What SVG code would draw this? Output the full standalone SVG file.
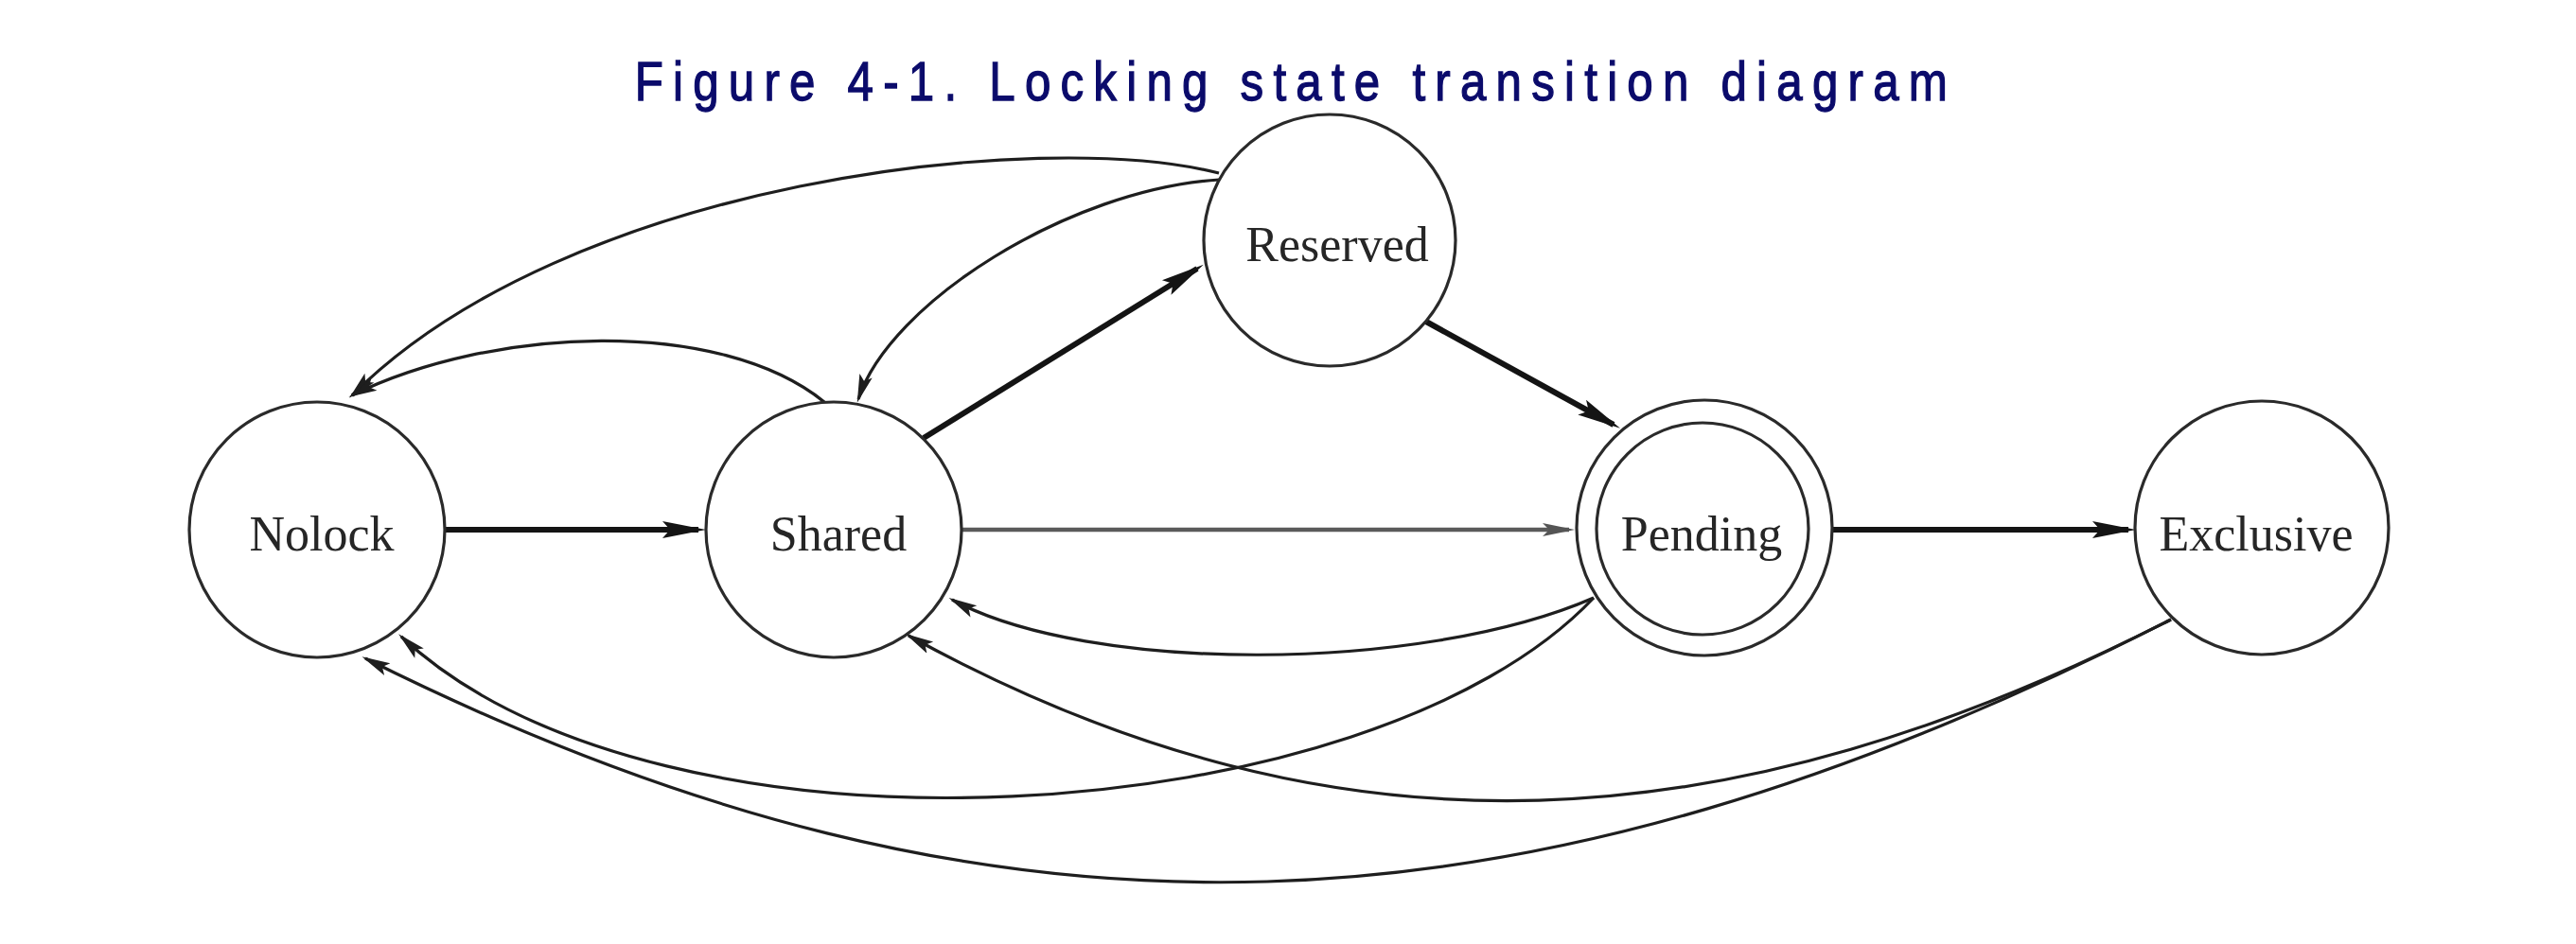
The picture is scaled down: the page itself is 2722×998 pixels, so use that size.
<svg xmlns="http://www.w3.org/2000/svg" width="2722" height="998" viewBox="0 0 2722 998">
<defs>
<style>
.node{fill:#fff;stroke:#2a2a2a;stroke-width:3.2}
.lbl{font-family:"Liberation Serif","Times New Roman",serif;font-size:52px;fill:#262626;text-anchor:middle}
.thick{fill:none;stroke:#141414;stroke-width:6}
.thin{fill:none;stroke:#1e1e1e;stroke-width:3.2}
.mid{fill:none;stroke:#5a5a5a;stroke-width:4.5}
.title{font-family:"Liberation Sans",Arial,sans-serif;font-size:58px;fill:#0b0b6b;stroke:#0b0b6b;stroke-width:1.3}
</style>
<marker id="ah" markerUnits="userSpaceOnUse" markerWidth="52" markerHeight="22" refX="38" refY="11" orient="auto">
<path d="M0,2 L46,11 L0,20 L8,11 z" fill="#141414"/>
</marker>
<marker id="am" markerUnits="userSpaceOnUse" markerWidth="40" markerHeight="20" refX="28" refY="10" orient="auto">
<path d="M0,3 L34,10 L0,17 L7,10 z" fill="#555"/>
</marker>
<marker id="at" markerUnits="userSpaceOnUse" markerWidth="36" markerHeight="18" refX="26" refY="8" orient="auto">
<path d="M0,1 L30,8 L0,15 L6,8 z" fill="#1e1e1e"/>
</marker>
</defs>
<rect width="2722" height="998" fill="#fff"/>
<text class="title" transform="scale(0.85,1)" x="789" y="106" textLength="1632" lengthAdjust="spacing">Figure 4-1. Locking state transition diagram</text>

<g id="connectors">
<line class="thick" x1="469" y1="560" x2="738" y2="560" marker-end="url(#ah)"/>
<line class="thick" x1="976" y1="463" x2="1265" y2="284" marker-end="url(#ah)"/>
<line class="thick" x1="1507" y1="340" x2="1705" y2="449" marker-end="url(#ah)"/>
<line class="mid" x1="1016" y1="560" x2="1658" y2="560" marker-end="url(#am)"/>
<line class="thick" x1="1935" y1="560" x2="2249" y2="560" marker-end="url(#ah)"/>
<path class="thin" d="M1288,183 C1100,135 600,190 372,418" marker-end="url(#at)"/>
<path class="thin" d="M871,425 C760,335 520,345 372,418" marker-end="url(#at)"/>
<path class="thin" d="M1288,190 C1130,200 940,320 907,422" marker-end="url(#at)"/>
<path class="thin" d="M1684,632 C1500,712 1150,712 1006,634" marker-end="url(#at)"/>
<path class="thin" d="M1684,632 C1450,880 700,930 424,673" marker-end="url(#at)"/>
<path class="thin" d="M2294,655 C1833,890 1419,924 960,672" marker-end="url(#at)"/>
<path class="thin" d="M2294,655 C1615,1001 1062,1034 386,696" marker-end="url(#at)"/>
</g>

<g id="nolock">
<circle class="node" cx="335" cy="560" r="135"/>
<text class="lbl" x="340" y="582">Nolock</text>
</g>
<g id="shared">
<circle class="node" cx="881" cy="560" r="135"/>
<text class="lbl" x="886" y="582">Shared</text>
</g>
<g id="reserved">
<circle class="node" cx="1405" cy="254" r="133"/>
<text class="lbl" x="1413" y="276">Reserved</text>
</g>
<g id="pending">
<circle class="node" cx="1801" cy="558" r="135"/>
<circle class="node" cx="1799" cy="559" r="112"/>
<text class="lbl" x="1798" y="582">Pending</text>
</g>
<g id="exclusive">
<circle class="node" cx="2390" cy="558" r="134"/>
<text class="lbl" x="2384" y="582">Exclusive</text>
</g>
</svg>
